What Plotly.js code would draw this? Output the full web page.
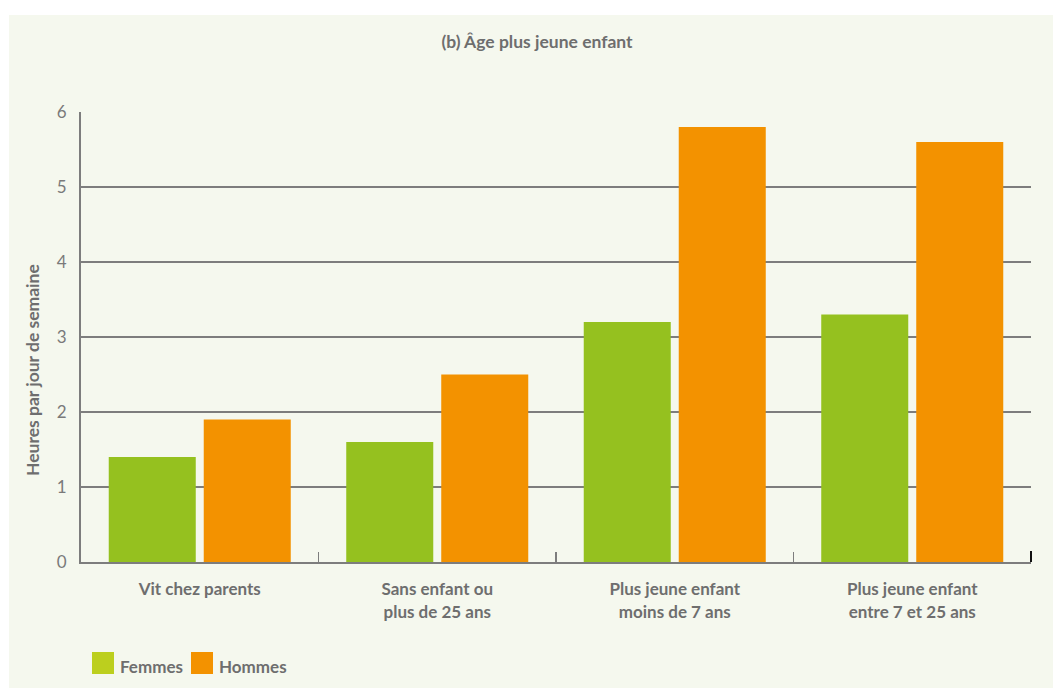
<!DOCTYPE html>
<html><head><meta charset="utf-8">
<script src="https://cdn.plot.ly/plotly-3.0.1.min.js"></script>
<style>html,body{margin:0;padding:0;background:#fff;}#chart{width:1053px;height:691px;}</style>
</head><body><div id="chart"></div>
<script>
const categories = ["Vit chez parents", "Sans enfant ou<br>plus de 25 ans", "Plus jeune enfant<br>moins de 7 ans", "Plus jeune enfant<br>entre 7 et 25 ans"];
const femmes = [1.4, 1.6, 3.2, 3.3];
const hommes = [1.9, 2.5, 5.8, 5.6];
const seriesNames = ["Femmes", "Hommes"];
const yTicks = [0, 1, 2, 3, 4, 5, 6];

const W = 1053, H = 691, L = 81, R = 22, T = 112, B = 129;
const pw = W - L - R, ph = H - T - B;
const px = x => (x - L) / pw;          // pixel -> paper x
const py = y => (H - B - y) / ph;      // pixel -> paper y

const FONT = "Lato, 'Open Sans', sans-serif";
const GRAY = "#6e6e6e";
const LINE = "#7d7d7d";

const traces = [
  {type: "bar", name: seriesNames[0], x: categories, y: femmes, marker: {color: "#95c11f"}, showlegend: false, hoverinfo: "y"},
  {type: "bar", name: seriesNames[1], x: categories, y: hommes, marker: {color: "#f39200"}, showlegend: false, hoverinfo: "y"}
];

const layout = {
  width: W, height: H,
  margin: {l: L, r: R, t: T, b: B, pad: 0},
  paper_bgcolor: "#ffffff",
  plot_bgcolor: "rgba(0,0,0,0)",
  barmode: "group",
  bargap: 0.2,
  bargroupgap: 0.084,
  font: {family: FONT, color: GRAY},
  title: {text: "<b>(b) Âge plus jeune enfant</b>", x: 537 / W, xanchor: "center", y: 1 - 42 / H, yanchor: "middle",
          font: {family: FONT, size: 17.5, color: GRAY}},
  xaxis: {
    showgrid: false, zeroline: false,
    showline: true, linecolor: LINE, linewidth: 2,
    ticks: "inside", tickson: "boundaries", ticklen: 10, tickwidth: 1.5, tickcolor: LINE,
    tickfont: {family: FONT, size: 17, color: GRAY, weight: "bold"},
    ticklabelstandoff: 11,
    fixedrange: true
  },
  yaxis: {
    range: [0, 6], tickvals: yTicks, ticktext: yTicks.map(String),
    showgrid: true, gridcolor: LINE, gridwidth: 2,
    zeroline: false, showline: true, linecolor: LINE, linewidth: 2,
    ticks: "", tickfont: {family: FONT, size: 17, color: "#7a7a7a"},
    ticklabelstandoff: 9,
    fixedrange: true
  },
  shapes: [
    {type: "rect", xref: "paper", yref: "paper", x0: px(9), x1: px(1053), y0: py(688), y1: py(15),
     fillcolor: "#f5f8ee", line: {width: 0}, layer: "below"},
    {type: "line", xref: "paper", yref: "paper", x0: 1, x1: 1, y0: 0, y1: py(551),
     line: {color: "#111111", width: 2}},
    {type: "rect", xref: "paper", yref: "paper", x0: px(92), x1: px(114), y0: py(674), y1: py(652),
     fillcolor: "#bccf1e", line: {width: 0}},
    {type: "rect", xref: "paper", yref: "paper", x0: px(191), x1: px(213), y0: py(674), y1: py(652),
     fillcolor: "#f39200", line: {width: 0}}
  ],
  annotations: [
    {text: "<b>Heures par jour de semaine</b>", textangle: -90, xref: "paper", yref: "paper",
     x: px(33), y: py(370), xanchor: "center", yanchor: "middle", showarrow: false,
     font: {family: FONT, size: 17.5, color: GRAY}},
    {text: "<b>" + seriesNames[0] + "</b>", xref: "paper", yref: "paper", x: px(118), y: py(666),
     xanchor: "left", yanchor: "middle", showarrow: false, font: {family: FONT, size: 17, color: GRAY}},
    {text: "<b>" + seriesNames[1] + "</b>", xref: "paper", yref: "paper", x: px(217), y: py(666),
     xanchor: "left", yanchor: "middle", showarrow: false, font: {family: FONT, size: 17, color: GRAY}}
  ]
};

Plotly.newPlot("chart", traces, layout, {displayModeBar: false, staticPlot: true});
</script>
</body></html>
